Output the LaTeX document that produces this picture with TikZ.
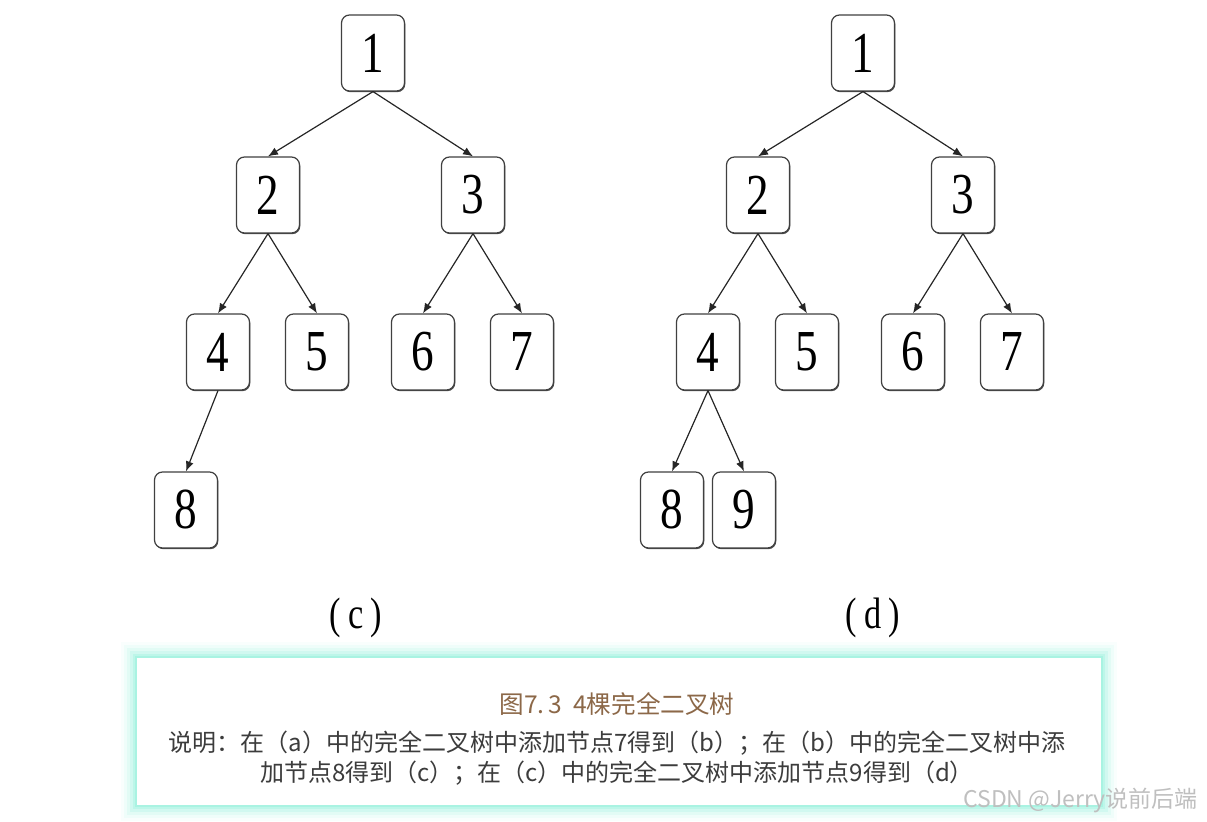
\documentclass[tikz,border=0pt]{standalone}
\usepackage{fontspec}
\setmainfont{Liberation Serif}
\newfontfamily\cjk{Noto Sans CJK SC}
\newfontfamily\narrowserif[FakeStretch=0.78]{Liberation Serif}
\usetikzlibrary{arrows.meta,shadows}

\definecolor{glow}{RGB}{150,240,220}
\definecolor{titlebrown}{RGB}{140,104,72}
\definecolor{notegray}{RGB}{60,60,60}

\tikzset{
  treenode/.style={draw=black!75, line width=0.6pt, rounded corners=4pt, fill=white,
    minimum width=31.5pt, minimum height=38pt, inner sep=0pt,
    font=\narrowserif\fontsize{29}{29}\selectfont,
    drop shadow={shadow xshift=0.4pt, shadow yshift=-0.6pt, opacity=0.7, fill=black}},
  edge/.style={-{Latex[length=5pt,width=4pt]}, line width=0.6pt, black!85},
  sublabel/.style={font=\narrowserif\fontsize{22}{22}\selectfont}
}

\begin{document}
\begin{tikzpicture}[x=0.5pt,y=-0.5pt]

% Page size of the picture
\useasboundingbox (0,0) rectangle (1207,822);

% Shift between the two trees
\def\dx{490}

% Tree (c)
\node[treenode] (c1) at (373,53) {1};
\node[treenode] (c2) at (268,195) {2};
\node[treenode] (c3) at (473,195) {3};
\node[treenode] (c4) at (218,352) {4};
\node[treenode] (c5) at (317,352) {5};
\node[treenode] (c6) at (423,352) {6};
\node[treenode] (c7) at (522,352) {7};
\node[treenode] (c8) at (186,510) {8};
\node[sublabel] (lc) at (356,618) {(\,c\,)};

\draw[edge] (c1.south) -- (c2.north);
\draw[edge] (c1.south) -- (c3.north);
\draw[edge] (c2.south) -- (c4.north);
\draw[edge] (c2.south) -- (c5.north);
\draw[edge] (c3.south) -- (c6.north);
\draw[edge] (c3.south) -- (c7.north);
\draw[edge] (c4.south) -- (c8.north);

% Tree (d): tree (c) plus node 9
\begin{scope}[xshift=\dx*0.5pt]
\node[treenode] (d1) at (373,53) {1};
\node[treenode] (d2) at (268,195) {2};
\node[treenode] (d3) at (473,195) {3};
\node[treenode] (d4) at (218,352) {4};
\node[treenode] (d5) at (317,352) {5};
\node[treenode] (d6) at (423,352) {6};
\node[treenode] (d7) at (522,352) {7};
\node[treenode] (d8) at (182,510) {8};
\node[treenode] (d9) at (254,510) {9};
\node[sublabel] (ld) at (383,618) {(\,d\,)};
\end{scope}

\draw[edge] (d1.south) -- (d2.north);
\draw[edge] (d1.south) -- (d3.north);
\draw[edge] (d2.south) -- (d4.north);
\draw[edge] (d2.south) -- (d5.north);
\draw[edge] (d3.south) -- (d6.north);
\draw[edge] (d3.south) -- (d7.north);
\draw[edge] (d4.south) -- (d8.north);
\draw[edge] (d4.south) -- (d9.north);

% Caption box with its soft glow
\foreach \g/\o in {16/0.06,13/0.1,10/0.15,7/0.22,4/0.35,2/0.5}
  \fill[glow, opacity=\o] (137-\g,658-\g) rectangle (1101+\g,805+\g);
\fill[white] (137,658) rectangle (1101,805);

\node[font=\cjk\fontsize{12.3}{12.3}\selectfont, text=titlebrown] (title) at (617,704)
  {图7.\,3\ \ 4棵完全二叉树};
\node[font=\cjk\fontsize{12}{15}\selectfont, text=notegray, align=center] (note) at (617,758)
  {说明：在（a）中的完全二叉树中添加节点7得到（b）；在（b）中的完全二叉树中添\\
   加节点8得到（c）；在（c）中的完全二叉树中添加节点9得到（d）};

% Watermark
\node[font=\cjk\fontsize{11.5}{11.5}\selectfont, text=black!25, anchor=east] (mark) at (1205,800)
  {CSDN @Jerry说前后端};

\end{tikzpicture}
\end{document}
